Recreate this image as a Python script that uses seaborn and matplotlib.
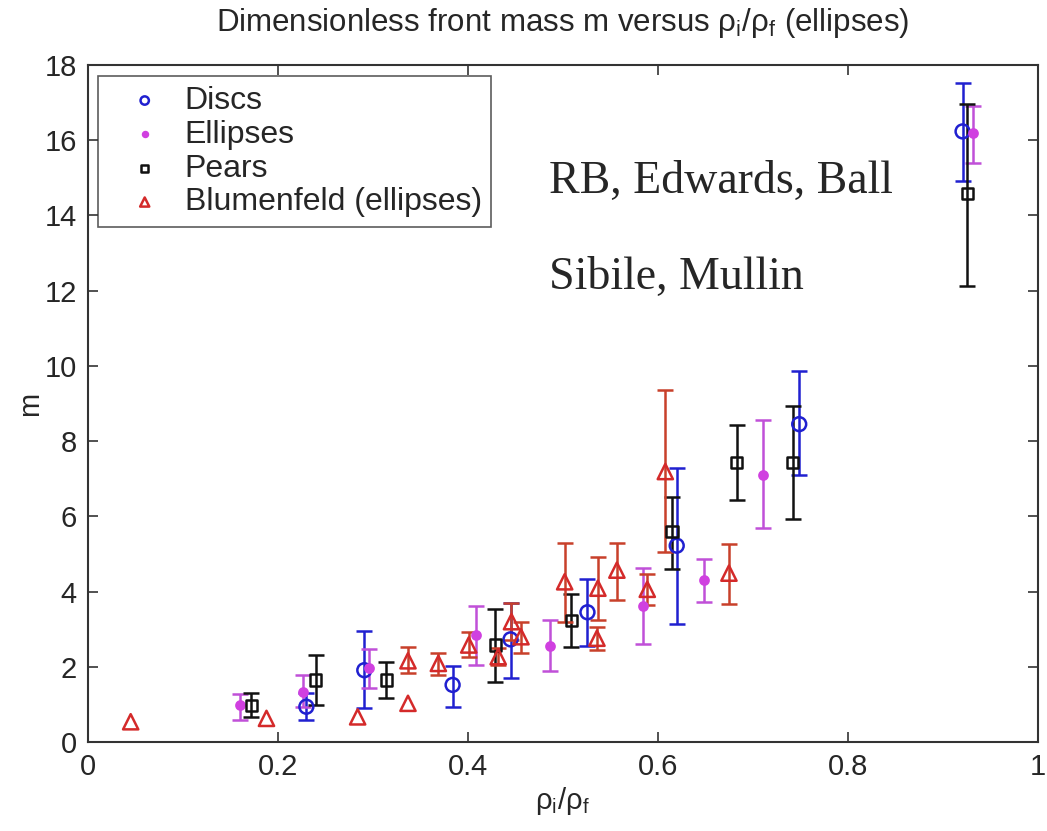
import numpy as np
import seaborn as sns
import matplotlib
matplotlib.use("Agg")
import matplotlib.pyplot as plt
from matplotlib.ticker import MultipleLocator, FuncFormatter

# -----------------------------------
# Data
# -----------------------------------

discs_x = [0.230, 0.291, 0.384, 0.445, 0.526, 0.620, 0.749, 0.921]
discs_m = [0.94, 1.91, 1.52, 2.73, 3.45, 5.22, 8.45, 16.23]
discs_lo = [0.59, 0.90, 0.94, 1.69, 2.55, 3.14, 7.09, 14.91]
discs_hi = [1.30, 2.95, 2.03, 3.70, 4.33, 7.28, 9.87, 17.53]

ellipses_x = [0.160, 0.226, 0.296, 0.409, 0.487, 0.585, 0.649, 0.711, 0.932]
ellipses_m = [0.98, 1.34, 1.96, 2.85, 2.55, 3.62, 4.31, 7.10, 16.18]
ellipses_lo = [0.59, 0.94, 1.45, 2.05, 1.90, 2.62, 3.73, 5.70, 15.38]
ellipses_hi = [1.29, 1.78, 2.48, 3.62, 3.24, 4.62, 4.86, 8.55, 16.91]

pears_x = [0.172, 0.240, 0.314, 0.429, 0.509, 0.615, 0.683, 0.742, 0.926]
pears_m = [0.98, 1.65, 1.65, 2.58, 3.24, 5.59, 7.43, 7.43, 14.57]
pears_lo = [0.67, 0.98, 1.17, 1.60, 2.52, 4.59, 6.44, 5.93, 12.12]
pears_hi = [1.30, 2.31, 2.12, 3.53, 3.94, 6.51, 8.43, 8.94, 16.95]

# Blumenfeld points; the first four have no error bars
blum_x = [0.045, 0.188, 0.284, 0.337, 0.337, 0.369, 0.401, 0.432, 0.446,
          0.456, 0.502, 0.536, 0.537, 0.557, 0.589, 0.608, 0.675]
blum_m = [0.54, 0.63, 0.67, 1.03, 2.16, 2.09, 2.58, 2.27, 3.20,
          2.80, 4.26, 2.76, 4.09, 4.57, 4.06, 7.19, 4.49]
blum_lo = [np.nan, np.nan, np.nan, np.nan, 1.83, 1.78, 2.27, 2.05, 2.71,
           2.36, 3.20, 2.45, 3.24, 3.78, 3.64, 5.06, 3.67]
blum_hi = [np.nan, np.nan, np.nan, np.nan, 2.52, 2.36, 2.92, 2.50, 3.70,
           3.20, 5.30, 3.07, 4.93, 5.30, 4.47, 9.35, 5.27]

# -----------------------------------
# Style
# -----------------------------------

sns.set_theme(style="white")
plt.rcParams["font.family"] = ["Liberation Sans", "DejaVu Sans"]
plt.rcParams["mathtext.fontset"] = "custom"
plt.rcParams["mathtext.rm"] = "Liberation Sans"
plt.rcParams["mathtext.it"] = "Liberation Sans"

fig = plt.figure(figsize=(10.47, 8.31), dpi=100)
ax = fig.add_axes([0.084, 0.107, 0.907, 0.815])

series = [
    ("Discs", discs_x, discs_m, discs_lo, discs_hi, "#2020d0", "#2020d0", "o", 100, "none"),
    ("Ellipses", ellipses_x, ellipses_m, ellipses_lo, ellipses_hi, "#d040e0", "#c050d8", "o", 35, "fill"),
    ("Pears", pears_x, pears_m, pears_lo, pears_hi, "#111111", "#111111", "s", 65, "none"),
    ("Blumenfeld (ellipses)", blum_x, blum_m, blum_lo, blum_hi, "#d42a2a", "#c8402a", "^", 120, "none"),
]

for label, x, m, lo, hi, col, ecol, mk, size, fill in series:
    x = np.asarray(x)
    m = np.asarray(m)
    lo = np.asarray(lo)
    hi = np.asarray(hi)
    has = ~np.isnan(lo)
    ax.errorbar(x[has], m[has], yerr=[m[has] - lo[has], hi[has] - m[has]],
                fmt="none", ecolor=ecol, elinewidth=1.8, capsize=6,
                capthick=1.8, zorder=2)
    face = col if fill == "fill" else "none"
    sns.scatterplot(x=x, y=m, ax=ax, marker=mk, s=size, facecolor=face,
                    edgecolor=col, linewidth=1.8, label=label, zorder=3)

# -----------------------------------
# Annotations
# -----------------------------------

ax.text(0.486, 14.9, "RB, Edwards, Ball", family="Liberation Serif",
        fontsize=33, va="center", ha="left")
ax.text(0.486, 12.34, "Sibile, Mullin", family="Liberation Serif",
        fontsize=33, va="center", ha="left")

# -----------------------------------
# Axes
# -----------------------------------

ax.set_xlim(0, 1)
ax.set_ylim(0, 18)
ax.xaxis.set_major_locator(MultipleLocator(0.2))
ax.yaxis.set_major_locator(MultipleLocator(2))
ax.xaxis.set_major_formatter(FuncFormatter(lambda v, p: f"{v:g}"))
ax.yaxis.set_major_formatter(FuncFormatter(lambda v, p: f"{v:g}"))

ax.set_xlabel(r"$\mathregular{\rho_i/\rho_f}$", fontsize=21, labelpad=3)
ax.set_ylabel("m", fontsize=21, labelpad=0)
ax.set_title(r"Dimensionless front mass m versus $\mathregular{\rho_i/\rho_f}$ (ellipses)",
             fontsize=22.5, pad=24)

for spine in ax.spines.values():
    spine.set_visible(True)
    spine.set_color("#333333")
    spine.set_linewidth(1.5)

ax.tick_params(axis="both", direction="in", length=7, width=1.2,
               color="#333333", labelsize=21, top=True, right=True,
               bottom=True, left=True, pad=8)

leg = ax.legend(loc="upper left", bbox_to_anchor=(0.011, 0.983),
                borderaxespad=0, fontsize=23, frameon=True, fancybox=False,
                markerscale=0.6, handletextpad=0.1, labelspacing=0.12,
                borderpad=0.3, handlelength=2.3)
leg.get_frame().set_edgecolor("#333333")
leg.get_frame().set_linewidth(1.2)

fig.savefig("out.png", dpi=100)
